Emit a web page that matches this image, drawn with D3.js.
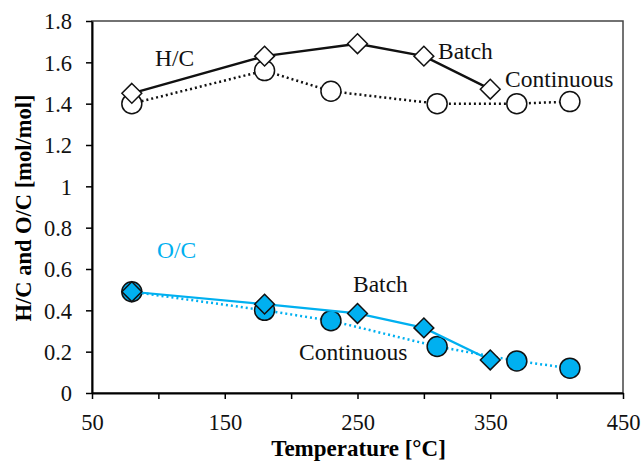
<!DOCTYPE html>
<html>
<head>
<meta charset="utf-8">
<script src="https://cdn.jsdelivr.net/npm/d3@7/dist/d3.min.js"></script>
<style>
  html, body { margin: 0; padding: 0; background: #fff; }
  svg { display: block; }
</style>
</head>
<body>
<svg id="chart" width="641" height="463"></svg>
<script>
// Elemental ratios of the product vs. process temperature
const batchTemp = [80, 180, 250, 300, 350];
const contTemp = [80, 180, 230, 310, 370, 410];
const hcBatch = [1.45, 1.63, 1.69, 1.63, 1.47];
const hcCont = [1.40, 1.56, 1.46, 1.40, 1.40, 1.41];
const ocBatch = [0.49, 0.43, 0.385, 0.315, 0.16];
const ocCont = [0.49, 0.40, 0.35, 0.225, 0.155, 0.12];
const xTicks = [50, 100, 150, 200, 250, 300, 350, 400, 450];
const xTickLabels = [50, 150, 250, 350, 450];
const yTicks = [0, 0.2, 0.4, 0.6, 0.8, 1, 1.2, 1.4, 1.6, 1.8];

const FONT = "Liberation Serif, Times New Roman, serif";
const blue = "#00b0f0";
const svg = d3.select("#chart").attr("font-family", FONT);
const m = { left: 92, right: 623, top: 21, bottom: 393 };

const x = d3.scaleLinear().domain([50, 450]).range([m.left, m.right]);
const y = d3.scaleLinear().domain([0, 1.8]).range([m.bottom, m.top]);

// frame
svg.append("rect")
  .attr("x", m.left).attr("y", m.top)
  .attr("width", m.right - m.left).attr("height", m.bottom - m.top)
  .attr("fill", "none").attr("stroke", "#444").attr("stroke-width", 1.5);

// axes
const xAxis = svg.append("g")
  .attr("transform", `translate(0,${m.bottom})`)
  .call(d3.axisBottom(x).tickValues(xTicks).tickSize(6).tickSizeOuter(0)
    .tickFormat(d => xTickLabels.includes(d) ? d : ""));
const yAxis = svg.append("g")
  .attr("transform", `translate(${m.left},0)`)
  .call(d3.axisLeft(y).tickValues(yTicks).tickSize(6).tickSizeOuter(0)
    .tickFormat(d => d3.format("~g")(d)));

[xAxis, yAxis].forEach(a => {
  a.attr("font-family", FONT).attr("font-size", 22.5);
  a.select(".domain").attr("stroke", "#000").attr("stroke-width", 2);
  a.selectAll(".tick line").attr("stroke", "#000").attr("stroke-width", 1.5);
  a.selectAll(".tick text")
    .attr("fill", "#111")
    .attr("font-family", FONT)
    .attr("font-size", 22.5);
});
xAxis.selectAll(".tick text").attr("dy", 0).attr("y", 37);
yAxis.selectAll(".tick text").attr("x", -20).attr("dy", "0.35em");

// axis titles
svg.append("text")
  .attr("x", x(250) + 1).attr("y", 456)
  .attr("text-anchor", "middle")
  .attr("font-family", FONT)
  .attr("font-size", 23).attr("font-weight", "bold")
  .text("Temperature [°C]");
svg.append("text")
  .attr("transform", "translate(31,208) rotate(-90)")
  .attr("text-anchor", "middle")
  .attr("font-family", FONT)
  .attr("font-size", 22.5).attr("font-weight", "bold")
  .text("H/C and O/C [mol/mol]");

const line = d3.line().x(d => x(d[0])).y(d => y(d[1]));
const zip = (a, b) => a.map((v, i) => [v, b[i]]);

function series(xs, ys, color, dashed, shape, fill, width) {
  const pts = zip(xs, ys);
  svg.append("path")
    .datum(pts)
    .attr("d", line)
    .attr("fill", "none")
    .attr("stroke", color)
    .attr("stroke-width", width)
    .attr("stroke-dasharray", dashed ? "2,3" : null);
  const sym = d3.symbol()
    .type(shape === "circle" ? d3.symbolCircle : d3.symbolDiamond2)
    .size(shape === "circle" ? 314 : 250);
  svg.append("g").selectAll("path")
    .data(pts)
    .join("path")
    .attr("transform", d => `translate(${x(d[0])},${y(d[1])})`)
    .attr("d", sym)
    .attr("fill", fill)
    .attr("stroke", "#111")
    .attr("stroke-width", 1.5);
}

series(contTemp, hcCont, "#111", true, "circle", "#fff", 2.5);
series(batchTemp, hcBatch, "#111", false, "diamond", "#fff", 2.5);
series(contTemp, ocCont, blue, true, "circle", blue, 2.5);
series(batchTemp, ocBatch, blue, false, "diamond", blue, 2.2);

// annotations
const notes = [
  { t: "H/C", x: 155, y: 66, c: "#111" },
  { t: "Batch", x: 438, y: 59, c: "#111" },
  { t: "Continuous", x: 505, y: 87, c: "#111" },
  { t: "O/C", x: 157, y: 258, c: blue },
  { t: "Batch", x: 353, y: 292, c: "#111" },
  { t: "Continuous", x: 299, y: 360, c: "#111" }
];
svg.append("g").selectAll("text")
  .data(notes)
  .join("text")
  .attr("x", d => d.x).attr("y", d => d.y)
  .attr("fill", d => d.c)
  .attr("font-family", FONT)
  .attr("font-size", 23.5)
  .text(d => d.t);
</script>
</body>
</html>
